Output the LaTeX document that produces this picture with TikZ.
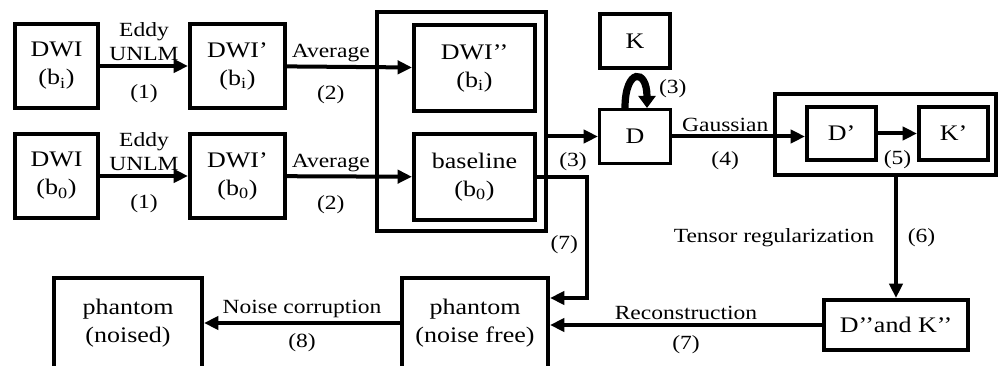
\documentclass[tikz,border=0pt]{standalone}
\usepackage{fontspec}
\setmainfont{Liberation Serif}[FakeStretch=1.17]
\usetikzlibrary{arrows.meta, positioning}

\begin{document}
\begin{tikzpicture}[
    x=0.025cm, y=-0.025cm,
    box/.style={rectangle, draw=black, line width=0.1cm, fill=white, align=center, inner sep=0pt, font=\fontsize{15.8}{19.9}\selectfont},
    frame/.style={rectangle, draw=black, line width=0.1cm, inner sep=0pt},
    arrow/.style={-{Triangle[length=0.36cm, width=0.33cm]}, line width=0.1cm},
    loop_arrow/.style={-{Triangle[length=0.3cm, width=0.42cm]}, line width=0.18cm},
    lbl/.style={font=\fontsize{14.3}{17.5}\selectfont, align=center, inner sep=2pt}
]
    \useasboundingbox (0,0) rectangle (1006,366);

    % Frames
    \node[frame, minimum width=4.225cm, minimum height=5.475cm] (frame1) at (461.5,121.5) {};
    \node[frame, minimum width=5.525cm, minimum height=2.025cm] (frame2) at (885.5,134.5) {};

    % Nodes
    \node[box, minimum width=2.075cm, minimum height=2.1cm] (dwi1) at (56.5,66) {DWI\\(b\textsubscript{i})};
    \node[box, minimum width=2.075cm, minimum height=2.1cm] (dwi0) at (56.5,176) {DWI\\(b\textsubscript{0})};
    \node[box, minimum width=2.375cm, minimum height=2.1cm] (dwip1) at (237.5,66) {DWI’\\(b\textsubscript{i})};
    \node[box, minimum width=2.375cm, minimum height=2.1cm] (dwip0) at (237.5,176) {DWI’\\(b\textsubscript{0})};
    \node[box, minimum width=3.025cm, minimum height=2.15cm] (dwipp) at (474.5,68) {DWI’’\\(b\textsubscript{i})};
    \node[box, minimum width=3.025cm, minimum height=2.15cm] (base) at (474.5,177) {baseline\\(b\textsubscript{0})};
    \node[box, minimum width=1.75cm, minimum height=1.35cm] (K) at (635,41) {K};
    \node[box, line width=0.075cm, minimum width=1.775cm, minimum height=1.35cm] (D) at (635,136.5) {D};
    \node[box, minimum width=1.725cm, minimum height=1.325cm] (Dp) at (841.5,133.5) {D’};
    \node[box, minimum width=1.725cm, minimum height=1.325cm] (Kp) at (953.5,133.5) {K’};
    \node[box, minimum width=3.6cm, minimum height=1.25cm] (DK) at (896,325) {D’’and K’’};
    \node[box, minimum width=3.65cm, minimum height=2.25cm] (nf) at (475,323) {phantom\\(noise free)};
    \node[box, minimum width=3.7cm, minimum height=2.25cm] (noised) at (128,323) {phantom\\(noised)};

    % Connections
    \draw[arrow] (dwi1) -- node[lbl, above] {Eddy\\UNLM} node[lbl, below=10pt] {(1)} (dwip1);
    \draw[arrow] (dwi0) -- node[lbl, above] {Eddy\\UNLM} node[lbl, below=10pt] {(1)} (dwip0);
    \draw[arrow] (dwip1) -- node[lbl, above, pos=0.35] {Average} node[lbl, below=10pt, pos=0.35] {(2)} (dwipp);
    \draw[arrow] (dwip0) -- node[lbl, above, pos=0.35] {Average} node[lbl, below=10pt, pos=0.35] {(2)} (base);
    \draw[arrow] (D.west -| frame1.east) -- node[lbl, below=8pt] {(3)} (D.west);
    \draw[loop_arrow] ([xshift=-0.25cm]D.north) .. controls +(0,1.0cm) and +(0,1.0cm) .. node[lbl, pos=0.8, right=0.2cm] {(3)} ([xshift=0.3cm]D.north);
    \draw[arrow] (D.east) -- node[lbl, above, pos=0.4] {Gaussian} node[lbl, below=7pt, pos=0.4] {(4)} (D.east -| Dp.west);
    \draw[arrow] (Dp) -- node[lbl, below=9pt] {(5)} (Kp);
    \draw[arrow] (DK.north |- frame2.south) -- node[lbl, left=0.43cm] {Tensor regularization} node[lbl, right=5pt] {(6)} (DK.north);
    \draw[arrow] (DK.west) -- node[lbl, above] {Reconstruction} node[lbl, below=4pt] {(7)} (DK.west -| nf.east);
    \draw[arrow] (base.east) -- ++(50,0) |- node[lbl, pos=0.28, left=3pt] {(7)} ([yshift=0.625cm]nf.east);
    \draw[arrow] (nf.west) -- node[lbl, above] {Noise corruption} node[lbl, below=4pt] {(8)} (noised.east);
\end{tikzpicture}
\end{document}
